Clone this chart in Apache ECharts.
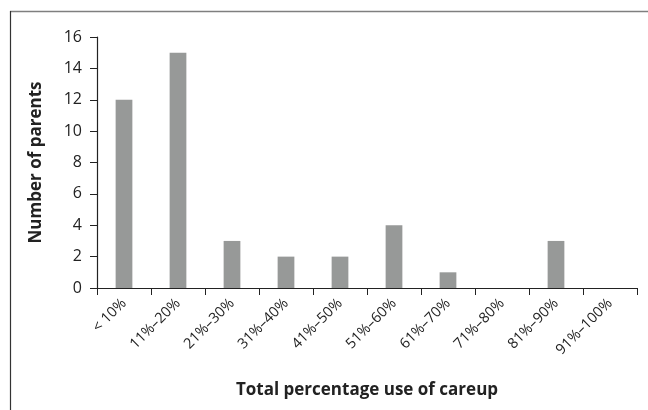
<!DOCTYPE html>
<html>
<head>
<meta charset="utf-8">
<script src="https://cdn.jsdelivr.net/npm/echarts@6/dist/echarts.min.js"></script>
<style>
html,body{margin:0;padding:0;background:#fff;}
#c{width:648px;height:410px;}
</style>
</head>
<body>
<div id="c"></div>
<script>
const categories = ['< 10%', '11%–20%', '21%–30%', '31%–40%', '41%–50%', '51%–60%', '61%–70%', '71%–80%', '81%–90%', '91%–100%'];
const parents = [12, 15, 3, 2, 2, 4, 1, 0, 3, 0];
const yTicks = { min: 0, max: 16, interval: 2 };
const xTitle = 'Total percentage use of careup';
const yTitle = 'Number of parents';

const chart = echarts.init(document.getElementById('c'), null, { renderer: 'canvas' });
const font = '"Open Sans", "Liberation Sans", sans-serif';
chart.setOption({
  animation: false,
  grid: { left: 97, top: 37, right: 11, bottom: 122, containLabel: false },
  graphic: [
    { type: 'line', shape: { x1: 10, y1: 11.5, x2: 648, y2: 11.5 }, style: { stroke: '#7f7f7f', lineWidth: 1.5 } },
    { type: 'line', shape: { x1: 10.5, y1: 11, x2: 10.5, y2: 410 }, style: { stroke: '#333', lineWidth: 1.2 } }
  ],
  xAxis: {
    type: 'category',
    data: categories,
    name: xTitle,
    nameLocation: 'middle',
    nameGap: 94,
    nameTextStyle: { fontFamily: font, fontWeight: 'bold', fontSize: 17, color: '#222' },
    axisLine: { lineStyle: { color: '#222', width: 1.2 } },
    axisTick: { show: true, alignWithLabel: false, length: 7, lineStyle: { color: '#222' } },
    axisLabel: { rotate: 45, fontFamily: font, fontSize: 14.5, color: '#222', margin: 13, interval: 0 }
  },
  yAxis: {
    type: 'value',
    min: yTicks.min, max: yTicks.max, interval: yTicks.interval,
    name: yTitle,
    nameLocation: 'middle',
    nameGap: 52,
    nameRotate: 90,
    nameTextStyle: { fontFamily: font, fontWeight: 'bold', fontSize: 17, color: '#222' },
    axisLine: { show: true, lineStyle: { color: '#222', width: 1.2 } },
    axisTick: { show: true, length: 7, lineStyle: { color: '#222' } },
    axisLabel: { fontFamily: font, fontSize: 16, color: '#222', margin: 15 },
    splitLine: { show: false }
  },
  series: [{
    type: 'bar',
    data: parents,
    barWidth: '31%',
    itemStyle: { color: '#979998' }
  }]
});
</script>
</body>
</html>
